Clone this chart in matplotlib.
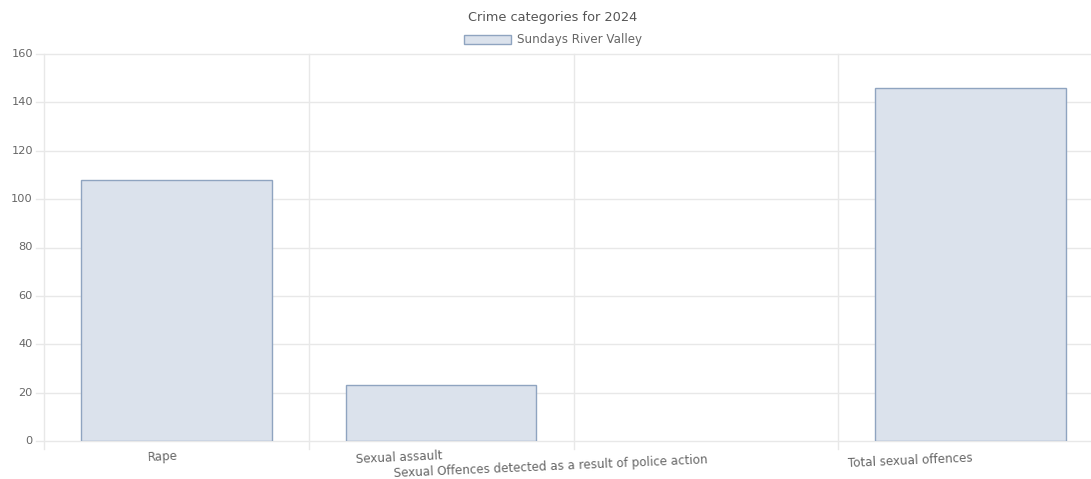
import matplotlib
matplotlib.use("Agg")
import matplotlib.pyplot as plt
from matplotlib.patches import Patch
from matplotlib.transforms import blended_transform_factory, offset_copy

plt.rcParams['font.family'] = ['DejaVu Sans']

# Data
categories = ["Rape", "Sexual assault",
              "Sexual Offences detected as a result of police action",
              "Total sexual offences"]
values = [108, 23, 0, 146]
series_name = "Sundays River Valley"
title = "Crime categories for 2024"
y_ticks = [0, 20, 40, 60, 80, 100, 120, 140, 160]

# Label drop (pixels) below the axis for each category label
label_drop = [9, 8, 12, 11]

W, H = 1091, 479
fig = plt.figure(figsize=(W / 100, H / 100), dpi=100)
# Plot area runs a little past the right edge of the canvas
ax = fig.add_axes([44 / W, 1 - 441 / H, (1103 - 44) / W, (441 - 54) / H])

fill = '#dbe2ec'
edge = '#8fa4c0'
grid = '#e8e8e8'
text_c = '#666666'

x = list(range(len(categories)))
ax.bar(x, values, width=0.72, color=fill, edgecolor=edge,
       linewidth=[1.0 if v else 0 for v in values], zorder=3)

ax.set_xlim(-0.5, len(categories) - 0.5)
ax.set_ylim(y_ticks[0], y_ticks[-1])

for s in ax.spines.values():
    s.set_visible(False)

# Horizontal grid lines, extending left past the axis as tick marks
ylab = blended_transform_factory(ax.transAxes, ax.transData)
for t in y_ticks:
    ax.plot([-8 / 1059, 1], [t, t], transform=ylab, color=grid, lw=1,
            clip_on=False, zorder=1)
    ax.text(-11 / 1059, t, str(t), transform=ylab, ha='right', va='center',
            fontsize=8.2, color=text_c)

# Vertical grid lines at category boundaries
xlab = blended_transform_factory(ax.transData, ax.transAxes)
for b in [i - 0.5 for i in range(len(categories) + 1)]:
    ax.plot([b, b], [-8 / 387, 1], transform=xlab, color=grid, lw=1,
            clip_on=False, zorder=1)

ax.set_xticks([])
ax.set_yticks([])

# Category labels, slightly rotated and right-anchored at the tick
for i, (lab, d) in enumerate(zip(categories, label_drop)):
    tr = offset_copy(xlab, fig=fig, x=1, y=-d * 0.72, units='points')
    ax.text(i, 0, lab, transform=tr, ha='right', va='top', rotation=2.5,
            rotation_mode='anchor', fontsize=8.6, color=text_c)

fig.text(553 / W, 1 - 17 / H, title, ha='center', va='center',
         fontsize=9.3, color='#555555')

handle = Patch(facecolor=fill, edgecolor=edge, linewidth=1.0)
fig.legend([handle], [series_name], loc='center', bbox_to_anchor=(553 / W, 1 - 40 / H),
           frameon=False, fontsize=8.6, labelcolor=text_c, handlelength=4.0,
           handleheight=0.8, handletextpad=0.5)

fig.savefig("out.png", dpi=100, facecolor='white')
